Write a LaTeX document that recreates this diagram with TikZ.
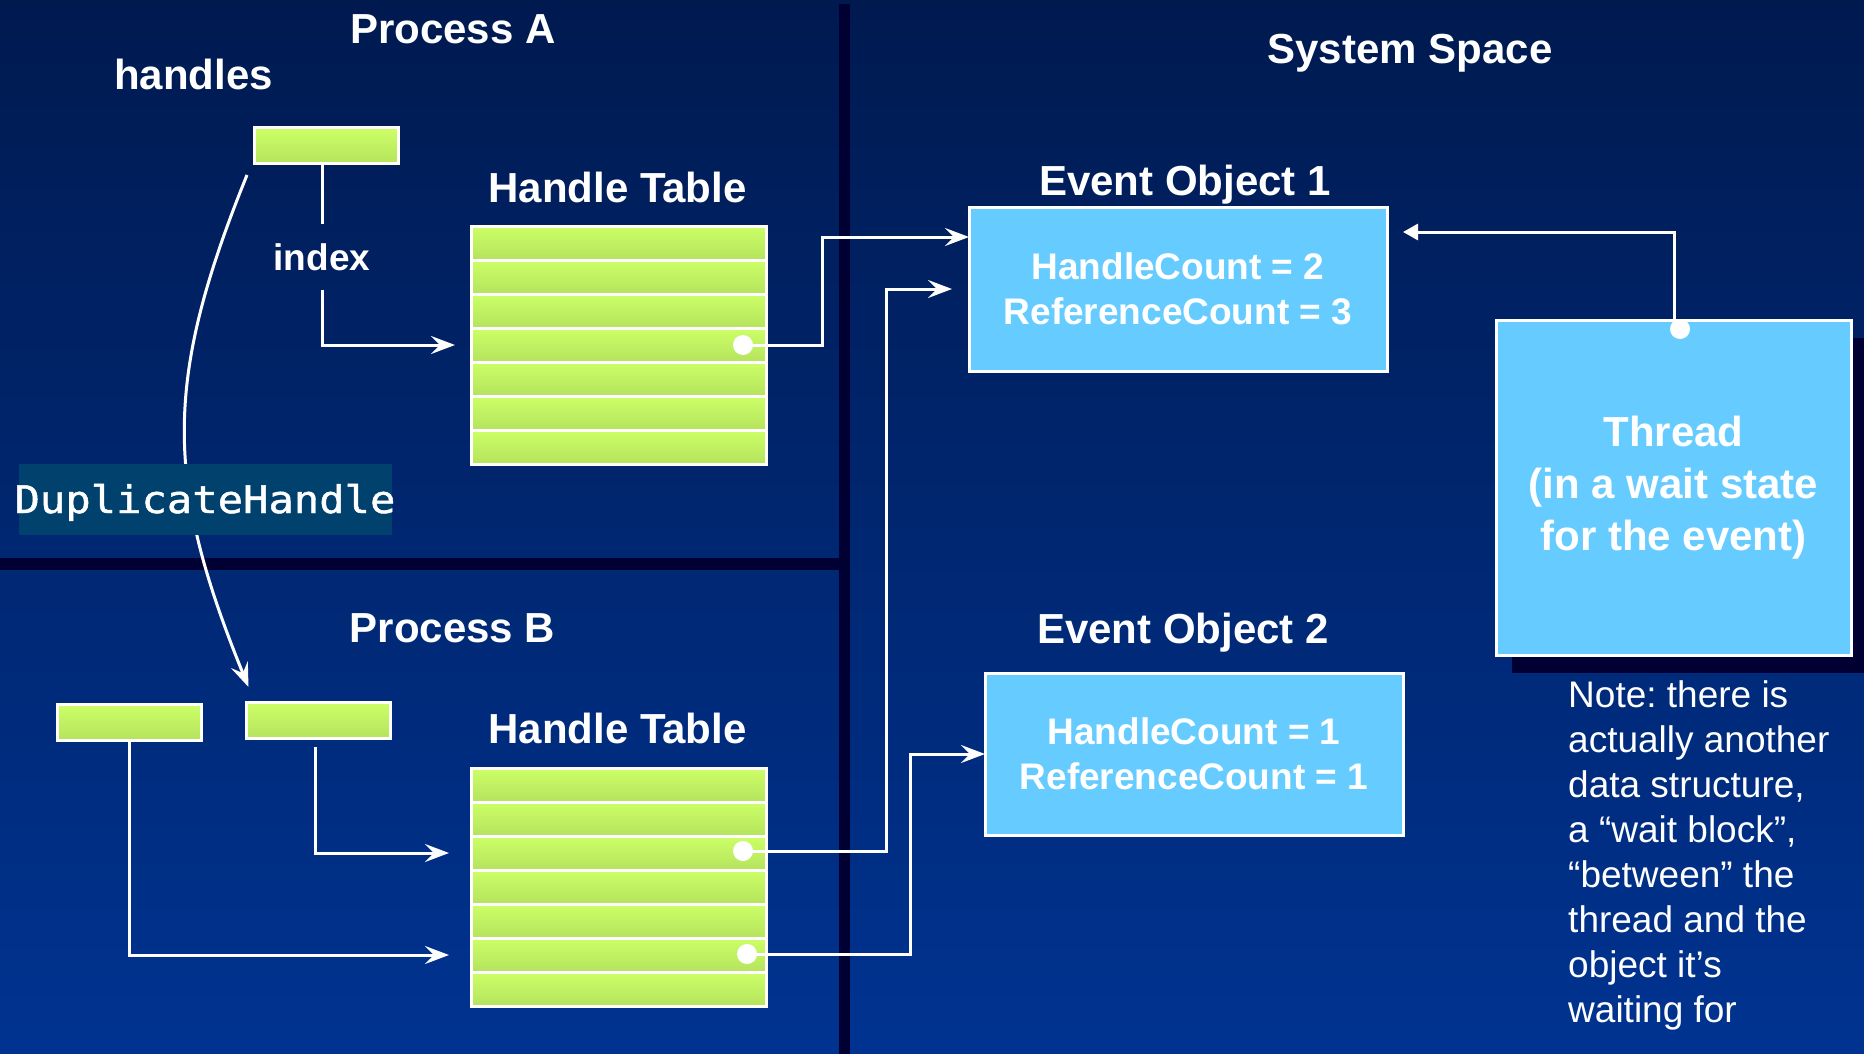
\documentclass[tikz,border=0pt]{standalone}
\usepackage{fontspec}
\setmainfont{Liberation Sans}
\newfontfamily\dupfont[FakeStretch=1.11,FakeBold=1.2]{DejaVu Sans Mono}
\usetikzlibrary{arrows.meta,calc}
\frenchspacing

\definecolor{bgtop}{HTML}{001A50}
\definecolor{bgbot}{HTML}{003391}
\definecolor{divider}{HTML}{000033}
\definecolor{dupfill}{HTML}{00416E}
\definecolor{limetop}{HTML}{CCFF66}
\definecolor{limebot}{HTML}{B5E35E}
\definecolor{evfill}{HTML}{66CCFF}

\begin{document}
\begin{tikzpicture}[x=1pt,y=-1pt,
  title/.style={text=white,font=\fontsize{42pt}{52pt}\selectfont\bfseries,inner sep=0pt,anchor=base},
  row/.style={draw=white,line width=3pt,top color=limetop,bottom color=limebot,
    minimum width=295pt,minimum height=34pt,inner sep=0pt,outer sep=0pt},
  handlebox/.style={row,minimum width=144pt,minimum height=36pt},
  evbox/.style={draw=white,line width=3pt,fill=evfill,text=white,align=center,
    inner sep=0pt,outer sep=0pt,font=\fontsize{37pt}{45pt}\selectfont\bfseries},
  dot/.style={circle,fill=white,inner sep=0pt,minimum size=20pt},
  conn/.style={draw=white,line width=3pt},
  arr/.style={conn,-{Stealth[length=24pt,width=18pt,inset=9pt]}},
  tri/.style={conn,-{Triangle[length=15pt,width=16pt]}}
]
\useasboundingbox (0,0) rectangle (1864,1054);

% background and panel dividers
\shade[top color=bgtop,bottom color=bgbot] (0,0) rectangle (1864,1054);
\fill[divider] (839,4) rectangle (850,1054);
\fill[divider] (0,558) rectangle (839,570);

% headings
\node[title] (procA) at (453,44) {Process A};
\node[title] (handlesA) at (193.5,90) {handles};
\node[title] (htA) at (617.5,202) {Handle Table};
\node[title] (procB) at (452.5,642) {Process B};
\node[title] (htB) at (617.5,743) {Handle Table};
\node[title] (sys) at (1410,64) {System Space};
\node[title] (eo1lbl) at (1185,195) {Event Object 1};
\node[title] (eo2lbl) at (1183,643) {Event Object 2};

% handle tables
\foreach \i in {1,...,7} {
  \node[row] (tA\i) at ({618.5},{209+34*\i}) {};
  \node[row] (tB\i) at ({618.5},{751+34*\i}) {};
}

% handles
\node[handlebox] (hA) at (326,146) {};
\node[handlebox] (hB1) at (129,722) {};
\node[handlebox] (hB2) at (318.5,720) {};

% kernel objects
\node[evbox,minimum width=418pt,minimum height=164pt] (eo1) at (1178,289)
  {HandleCount = 2\\ReferenceCount = 3};
\node[evbox,minimum width=418pt,minimum height=162pt] (eo2) at (1194,754)
  {HandleCount = 1\\ReferenceCount = 1};
\fill[divider] (1512,338) rectangle (1864,673);
\node[evbox,minimum width=355pt,minimum height=335pt,
  font=\fontsize{42pt}{52pt}\selectfont\bfseries] (thr) at (1673.5,487.5)
  {Thread\\(in a wait state\\for the event)};

% note
\node[text=white,font=\fontsize{37pt}{45pt}\selectfont,align=left,
  anchor=north west,inner sep=0pt] (note) at (1568,680)
  {Note: there is\\actually another\\data structure,\\a “wait block”,\\“between” the\\thread and the\\object it’s\\waiting for};

% pointers held in the table entries
\node[dot] (dA) at (743,345) {};
\node[dot] (dB1) at (743,851) {};
\node[dot] (dB2) at (747,954) {};
\node[dot] (dT) at (1680,329) {};

% index lookup in process A
\node[text=white,font=\fontsize{37pt}{45pt}\selectfont\bfseries,anchor=base,
  inner xsep=0pt,inner ysep=19pt] (index) at (322,270) {index};
\draw[conn] (index.north |- hA.south) -- (index.north);
\draw[arr,shorten >=16pt] (index.south) |- (tA4.west);

% index lookups in process B
\draw[arr,shorten >=22pt] ([xshift=-3.5pt,yshift=-9pt]hB2.south) |- (tB3.west);
\draw[arr,shorten >=22pt] (hB1.south) |- (tB6.west);

% table entries to objects
\draw[arr] (dA.center) -- ++(79,0) |- ([yshift=52pt]eo1.west);
\draw[arr,shorten >=17pt] (dB1.center) -- ++(143,0) |- (eo1.west);
\draw[arr] (dB2.center) -- ++(163.5,0) |- (eo2.west);
\draw[tri,shorten >=16pt] ([xshift=-6pt]dT.center) |- ([yshift=57pt]eo1.east);

% handle duplication across processes
\coordinate (dupstart) at ([xshift=-7pt,yshift=-11pt]hA.south west);
\coordinate (dupend) at ([xshift=2pt,yshift=15pt]hB2.north west);
\draw[arr] (dupstart) .. controls (164,380) and (164,480) .. (dupend);
\node[fill=dupfill,minimum width=373pt,minimum height=71pt,inner sep=0pt] (dupbox) at (205.5,499.5) {};
\node[text=white,font=\dupfont\fontsize{38pt}{44pt}\selectfont,anchor=base,inner sep=0pt] (dup) at (205,513) {DuplicateHandle};
\end{tikzpicture}
\end{document}
